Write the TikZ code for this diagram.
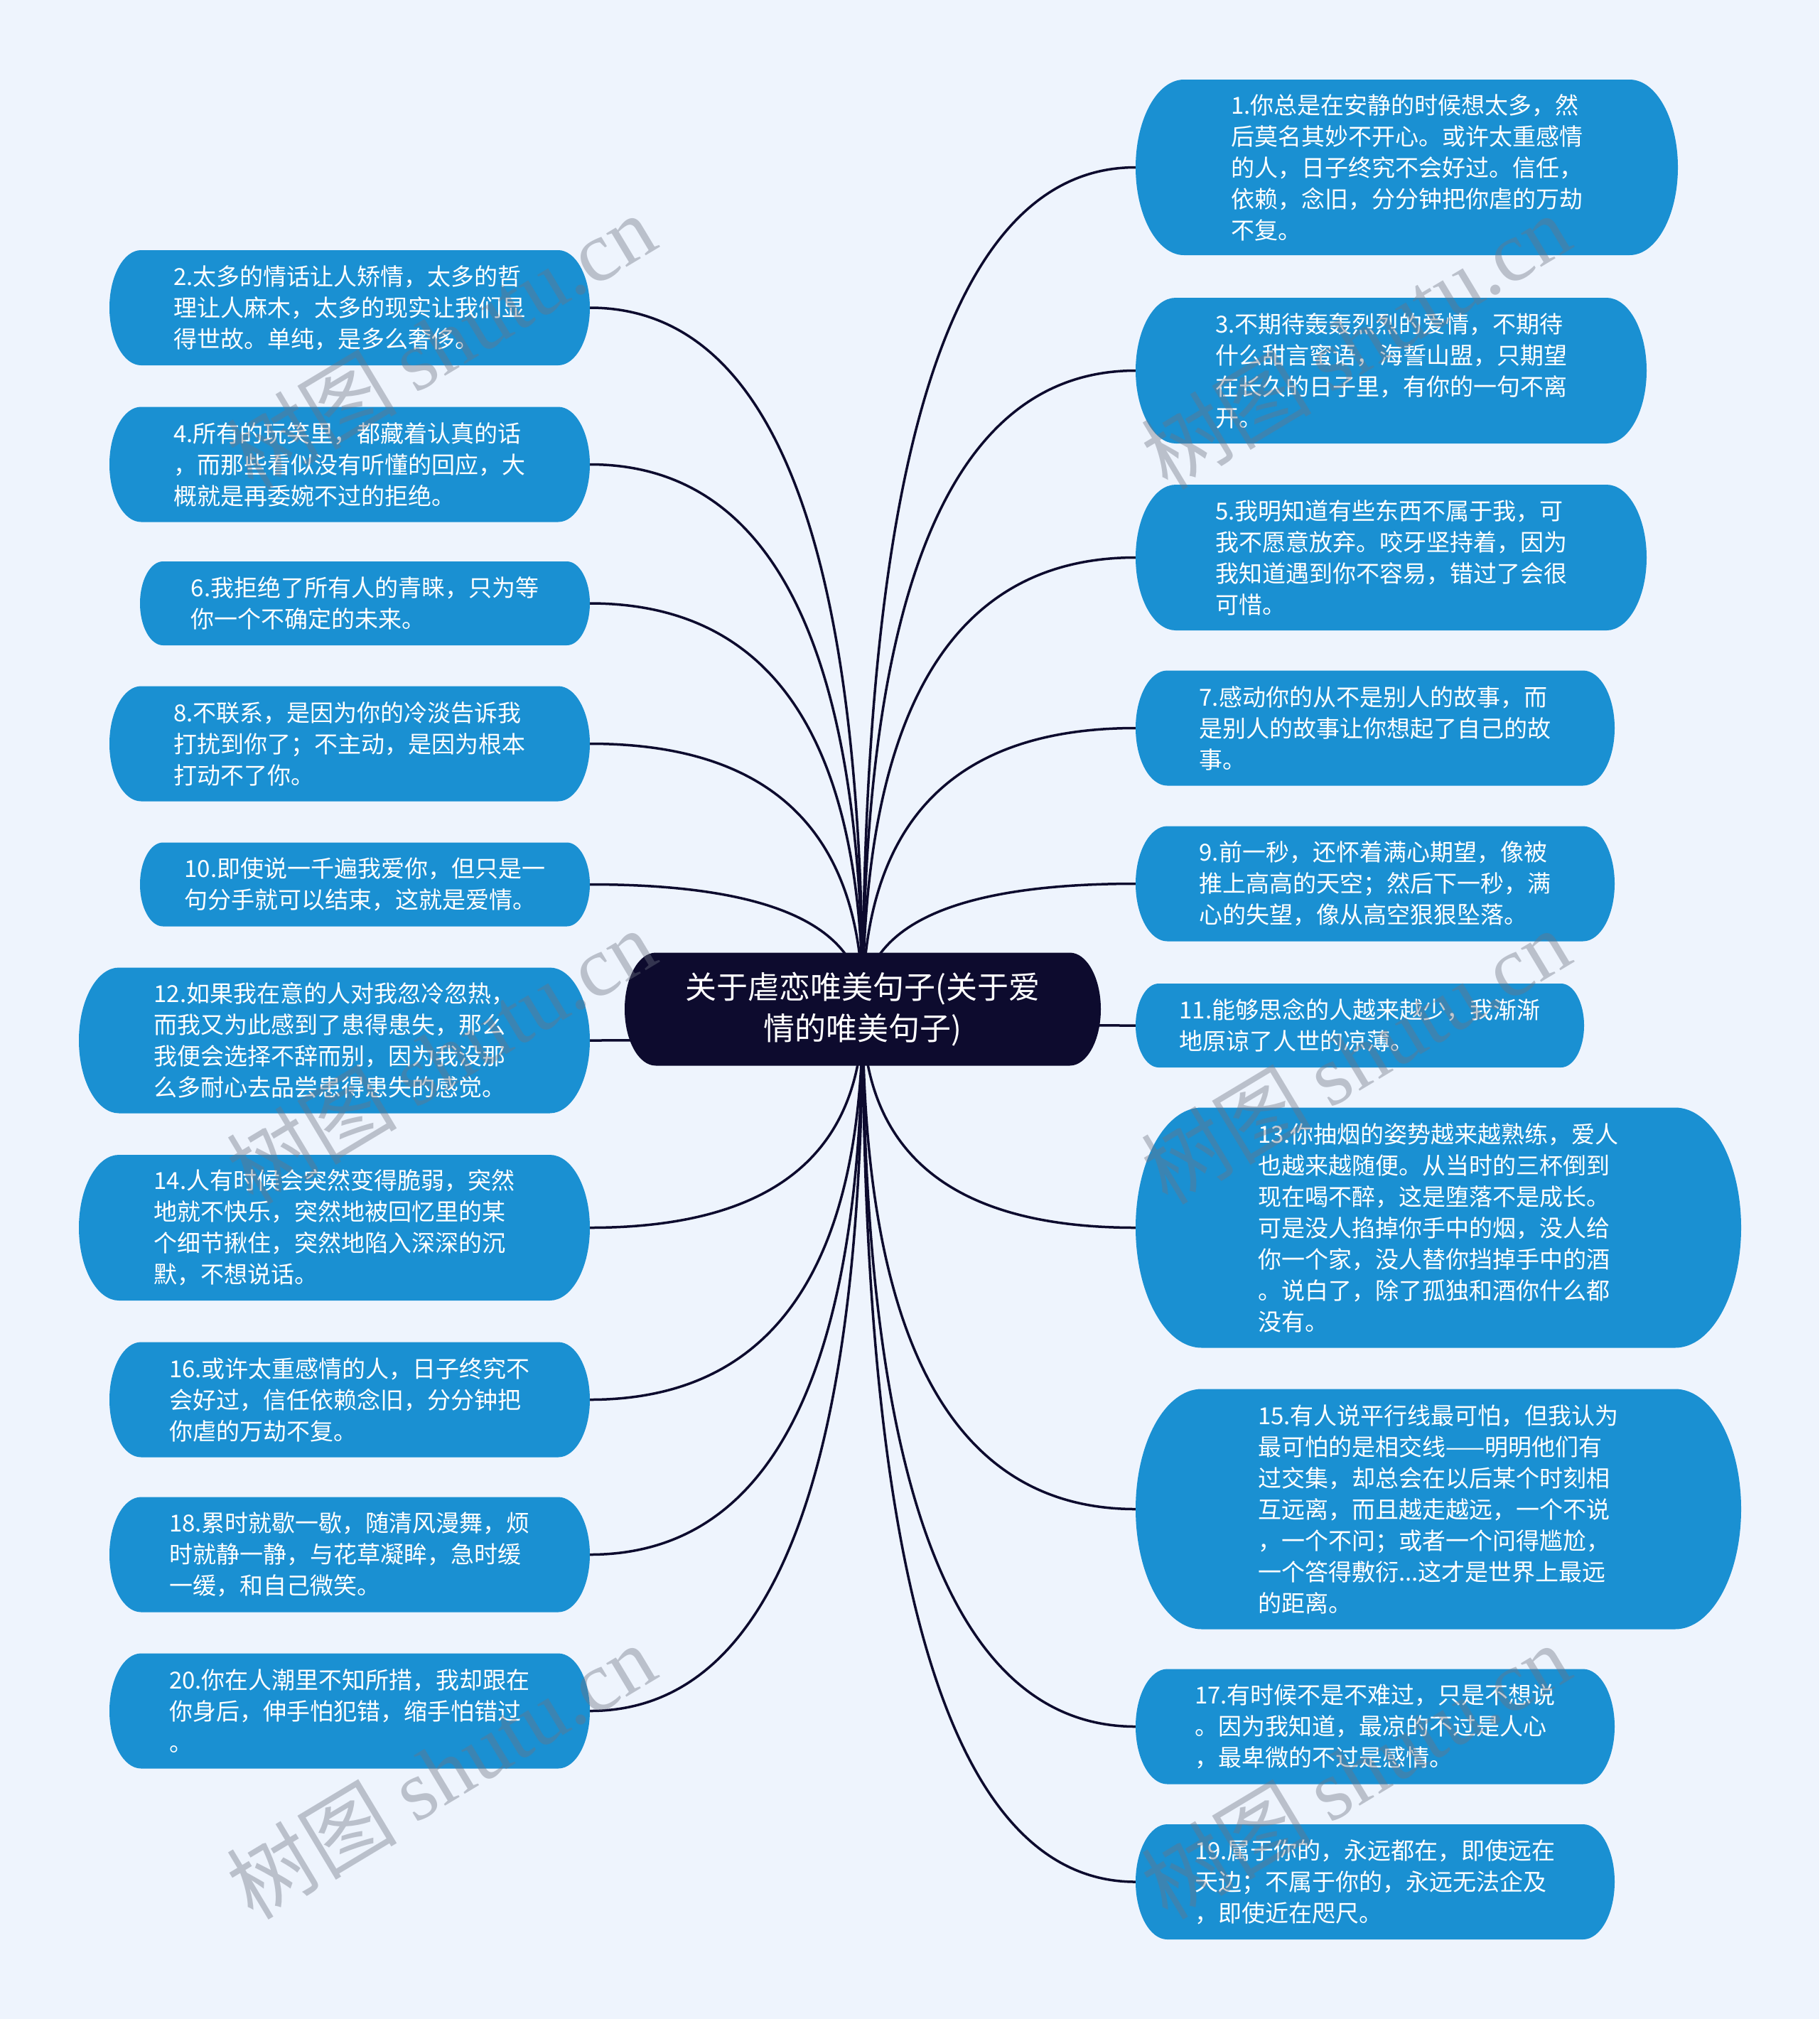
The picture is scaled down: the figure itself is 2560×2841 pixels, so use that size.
\documentclass[tikz,border=0pt]{standalone}
\usepackage{fontspec}
\setmainfont{Noto Sans CJK SC}
\newfontfamily\wmlatin{Liberation Serif}
\usetikzlibrary{calc}
\definecolor{bgcol}{RGB}{238,244,253}
\definecolor{leaffill}{RGB}{26,144,210}
\definecolor{rootfill}{RGB}{13,11,46}
\definecolor{linecol}{RGB}{13,11,46}
\definecolor{wmcol}{RGB}{110,115,130}
\pgfdeclarelayer{bglayer}
\pgfdeclarelayer{edgelayer}
\pgfdeclarelayer{pilllayer}
\pgfdeclarelayer{wmlayer}
\pgfsetlayers{bglayer,edgelayer,pilllayer,main,wmlayer}
\tikzset{
  leaf/.style={text=white, align=left, inner sep=0pt, font=\fontsize{33}{44}\selectfont},
  rootnode/.style={text=white, align=center, inner sep=0pt, font=\fontsize{44}{58}\selectfont},
  conn/.style={draw=linecol, line width=3.5pt},
  wmark/.style={text=wmcol, text opacity=0.4, anchor=base west, rotate=31, inner sep=0pt, font=\fontsize{120}{120}\selectfont}
}
% name, node style, fill colour, cx, cy, w, h, text
\newcommand{\bubble}[8]{%
  \node[#2, minimum width=#6pt, minimum height=#7pt] (#1) at (#4,#5) {#8};
  \pgfmathsetmacro{\bbry}{#7/2}%
  \pgfmathsetmacro{\bbrx}{0.55*#7/2}%
  \pgfmathsetmacro{\bbxl}{#4-#6/2+\bbrx}%
  \pgfmathsetmacro{\bbxr}{#4+#6/2-\bbrx}%
  \pgfmathsetmacro{\bbyt}{#5-#7/2}%
  \pgfmathsetmacro{\bbyb}{#5+#7/2}%
  \begin{pgfonlayer}{pilllayer}
    \fill[#3] (\bbxl,\bbyt) -- (\bbxr,\bbyt)
      arc[start angle=90, end angle=-90, x radius=\bbrx pt, y radius=\bbry pt]
      -- (\bbxl,\bbyb)
      arc[start angle=270, end angle=90, x radius=\bbrx pt, y radius=\bbry pt] -- cycle;
  \end{pgfonlayer}}
% quadratic-looking connector from root centre to a child anchor
\newcommand{\link}[2]{%
  \begin{pgfonlayer}{edgelayer}
    \draw[conn] (#1.center) .. controls ($(#1.center)!0.6667!(#1.center|-#2)$)
      and ($(#2)!0.6667!(#1.center|-#2)$) .. (#2);
  \end{pgfonlayer}}
\begin{document}
\begin{tikzpicture}[x=1pt,y=-1pt]
\begin{pgfonlayer}{bglayer}
  \fill[bgcol] (0,0) rectangle (2560,2841);
\end{pgfonlayer}
\useasboundingbox (0,0) rectangle (2560,2841);

% root
\bubble{root}{rootnode}{rootfill}{1214}{1420}{670}{159}{关于虐恋唯美句子(关于爱\\情的唯美句子)}

% right column
\bubble{n1}{leaf}{leaffill}{1979.5}{235.5}{763}{247}{1.你总是在安静的时候想太多，然\\后莫名其妙不开心。或许太重感情\\的人，日子终究不会好过。信任，\\依赖，念旧，分分钟把你虐的万劫\\不复。}
\bubble{n3}{leaf}{leaffill}{1957.5}{521.5}{719}{205}{3.不期待轰轰烈烈的爱情，不期待\\什么甜言蜜语，海誓山盟，只期望\\在长久的日子里，有你的一句不离\\开。}
\bubble{n5}{leaf}{leaffill}{1957.5}{784.5}{719}{205}{5.我明知道有些东西不属于我，可\\我不愿意放弃。咬牙坚持着，因为\\我知道遇到你不容易，错过了会很\\可惜。}
\bubble{n7}{leaf}{leaffill}{1935}{1024.5}{674}{162}{7.感动你的从不是别人的故事，而\\是别人的故事让你想起了自己的故\\事。}
\bubble{n9}{leaf}{leaffill}{1935}{1243.5}{674}{162}{9.前一秒，还怀着满心期望，像被\\推上高高的天空；然后下一秒，满\\心的失望，像从高空狠狠坠落。}
\bubble{n11}{leaf}{leaffill}{1913.5}{1443}{631}{118}{11.能够思念的人越来越少，我渐渐\\地原谅了人世的凉薄。}
\bubble{n13}{leaf}{leaffill}{2024}{1727.5}{852}{338}{13.你抽烟的姿势越来越熟练，爱人\\也越来越随便。从当时的三杯倒到\\现在喝不醉，这是堕落不是成长。\\可是没人掐掉你手中的烟，没人给\\你一个家，没人替你挡掉手中的酒\\。说白了，除了孤独和酒你什么都\\没有。}
\bubble{n15}{leaf}{leaffill}{2024}{2123.5}{852}{338}{15.有人说平行线最可怕，但我认为\\最可怕的是相交线——明明他们有\\过交集，却总会在以后某个时刻相\\互远离，而且越走越远，一个不说\\，一个不问；或者一个问得尴尬，\\一个答得敷衍...这才是世界上最远\\的距离。}
\bubble{n17}{leaf}{leaffill}{1935}{2429.5}{674}{162}{17.有时候不是不难过，只是不想说\\。因为我知道，最凉的不过是人心\\，最卑微的不过是感情。}
\bubble{n19}{leaf}{leaffill}{1935}{2648}{674}{162}{19.属于你的，永远都在，即使远在\\天边；不属于你的，永远无法企及\\，即使近在咫尺。}

% left column
\bubble{n2}{leaf}{leaffill}{492}{433}{676}{162}{2.太多的情话让人矫情，太多的哲\\理让人麻木，太多的现实让我们显\\得世故。单纯，是多么奢侈。}
\bubble{n4}{leaf}{leaffill}{492}{653.5}{676}{162}{4.所有的玩笑里，都藏着认真的话\\，而那些看似没有听懂的回应，大\\概就是再委婉不过的拒绝。}
\bubble{n6}{leaf}{leaffill}{513.5}{849}{633}{118}{6.我拒绝了所有人的青睐，只为等\\你一个不确定的未来。}
\bubble{n8}{leaf}{leaffill}{492}{1046.5}{676}{162}{8.不联系，是因为你的冷淡告诉我\\打扰到你了；不主动，是因为根本\\打动不了你。}
\bubble{n10}{leaf}{leaffill}{513.5}{1244.5}{633}{118}{10.即使说一千遍我爱你，但只是一\\句分手就可以结束，这就是爱情。}
\bubble{n12}{leaf}{leaffill}{470.5}{1464}{719}{205}{12.如果我在意的人对我忽冷忽热，\\而我又为此感到了患得患失，那么\\我便会选择不辞而别，因为我没那\\么多耐心去品尝患得患失的感觉。}
\bubble{n14}{leaf}{leaffill}{470.5}{1727.5}{719}{205}{14.人有时候会突然变得脆弱，突然\\地就不快乐，突然地被回忆里的某\\个细节揪住，突然地陷入深深的沉\\默，不想说话。}
\bubble{n16}{leaf}{leaffill}{492}{1969.5}{676}{162}{16.或许太重感情的人，日子终究不\\会好过，信任依赖念旧，分分钟把\\你虐的万劫不复。}
\bubble{n18}{leaf}{leaffill}{492}{2187.5}{676}{162}{18.累时就歇一歇，随清风漫舞，烦\\时就静一静，与花草凝眸，急时缓\\一缓，和自己微笑。}
\bubble{n20}{leaf}{leaffill}{492}{2407.5}{676}{162}{20.你在人潮里不知所措，我却跟在\\你身后，伸手怕犯错，缩手怕错过\\。}

% connectors
\link{root}{n1.west}
\link{root}{n3.west}
\link{root}{n5.west}
\link{root}{n7.west}
\link{root}{n9.west}
\link{root}{n11.west}
\link{root}{n13.west}
\link{root}{n15.west}
\link{root}{n17.west}
\link{root}{n19.west}
\link{root}{n2.east}
\link{root}{n4.east}
\link{root}{n6.east}
\link{root}{n8.east}
\link{root}{n10.east}
\link{root}{n12.east}
\link{root}{n14.east}
\link{root}{n16.east}
\link{root}{n18.east}
\link{root}{n20.east}

% watermark
\begin{pgfonlayer}{wmlayer}
\node[wmark] (w1) at (356,692) {树图 {\wmlatin shutu.cn}};
\node[wmark] (w2) at (1643,692) {树图 {\wmlatin shutu.cn}};
\node[wmark] (w3) at (356,1698) {树图 {\wmlatin shutu.cn}};
\node[wmark] (w4) at (1643,1698) {树图 {\wmlatin shutu.cn}};
\node[wmark] (w5) at (356,2704) {树图 {\wmlatin shutu.cn}};
\node[wmark] (w6) at (1643,2704) {树图 {\wmlatin shutu.cn}};
\end{pgfonlayer}
\end{tikzpicture}
\end{document}
